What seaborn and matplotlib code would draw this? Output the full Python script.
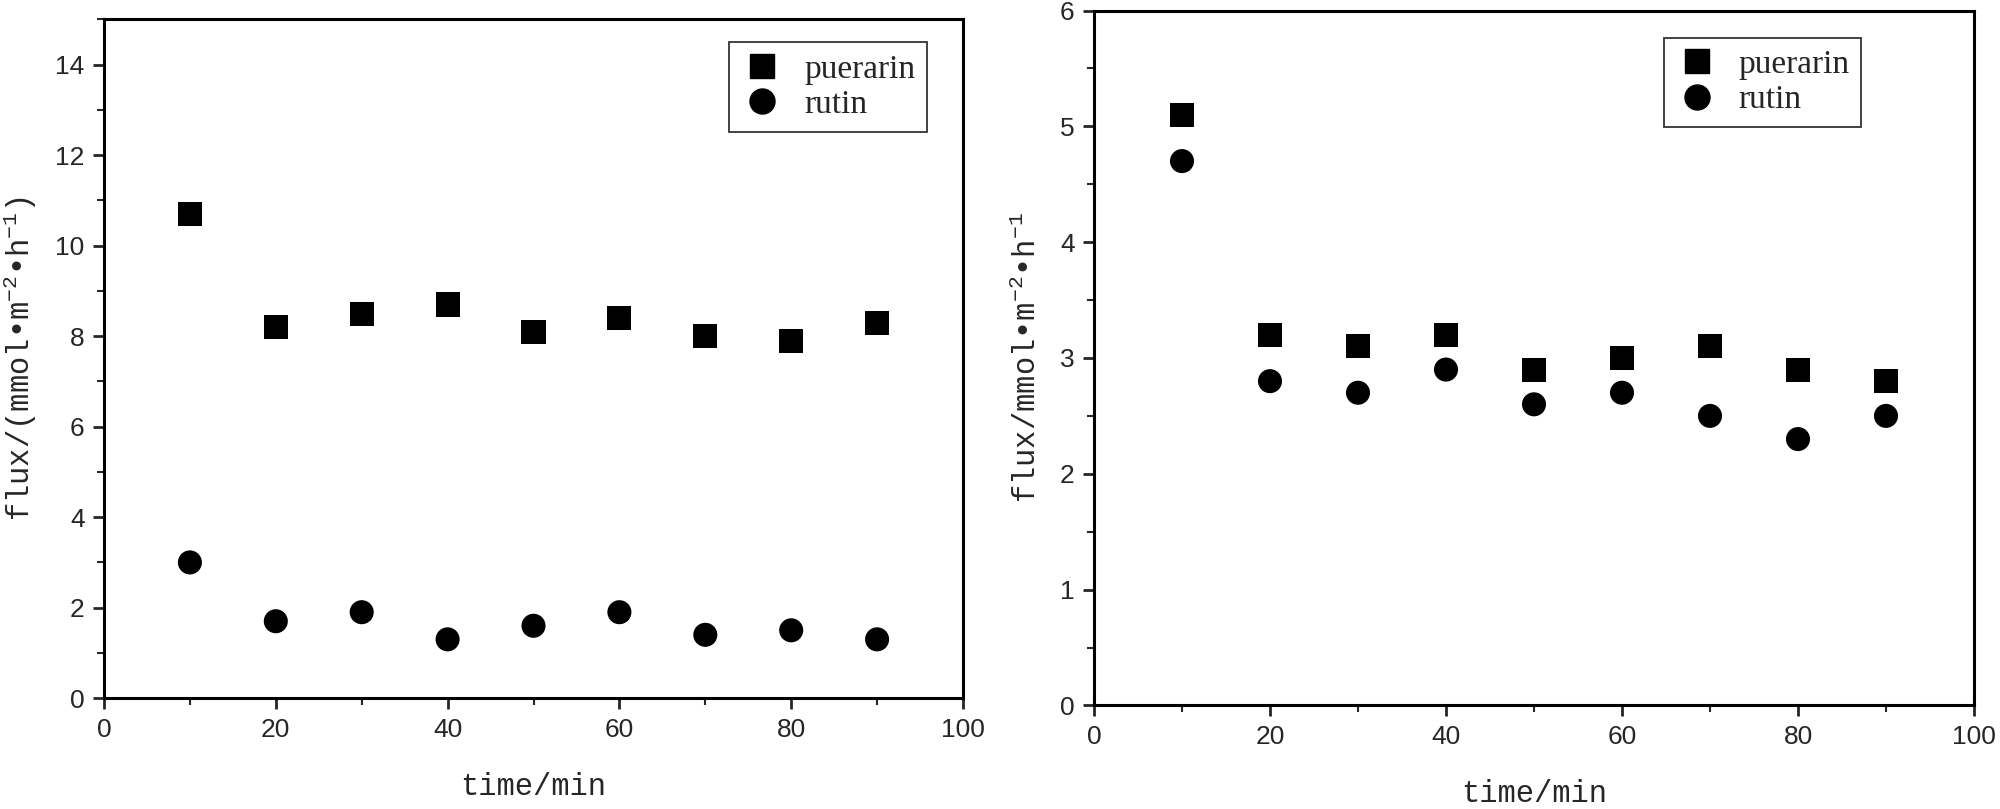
import numpy as np
import pandas as pd
import matplotlib
matplotlib.use("Agg")
import matplotlib.pyplot as plt
import seaborn as sns
from matplotlib.ticker import MultipleLocator

sns.set_style("ticks")
plt.rcParams["font.family"] = ["Liberation Sans", "DejaVu Sans"]
plt.rcParams["mathtext.default"] = "regular"

# dados
tempo = [10, 20, 30, 40, 50, 60, 70, 80, 90]
puerarin_a = [10.7, 8.2, 8.5, 8.7, 8.1, 8.4, 8.0, 7.9, 8.3]
rutin_a = [3.0, 1.7, 1.9, 1.3, 1.6, 1.9, 1.4, 1.5, 1.3]
puerarin_b = [5.1, 3.2, 3.1, 3.2, 2.9, 3.0, 3.1, 2.9, 2.8]
rutin_b = [4.7, 2.8, 2.7, 2.9, 2.6, 2.7, 2.5, 2.3, 2.5]


def monta_df(p, r):
    return pd.DataFrame({
        "time": tempo + tempo,
        "flux": p + r,
        "composto": ["puerarin"] * len(tempo) + ["rutin"] * len(tempo),
    })


fig = plt.figure(figsize=(20, 8.09), dpi=100)
ax1 = fig.add_axes([0.052, 0.137, 0.4295, 0.839])
ax2 = fig.add_axes([0.547, 0.128, 0.440, 0.859])

paineis = [
    (ax1, monta_df(puerarin_a, rutin_a), 15, 2, 1, "flux/(mmol\u2022m$^{-2}$\u2022h$^{-1}$)", (0.958, 0.966)),
    (ax2, monta_df(puerarin_b, rutin_b), 6, 1, 0.5, "flux/mmol\u2022m$^{-2}$\u2022h$^{-1}$", (0.872, 0.961)),
]

mono = ["Liberation Mono", "DejaVu Sans Mono"]

for ax, df, ymax, ymaj, ymin, ylab, ancora in paineis:
    sns.scatterplot(data=df, x="time", y="flux", style="composto",
                    markers={"puerarin": "s", "rutin": "o"},
                    color="black", s=300, edgecolor="none", ax=ax, legend=False)
    ax.set_xlim(0, 100)
    ax.set_ylim(0, ymax)
    ax.xaxis.set_major_locator(MultipleLocator(20))
    ax.xaxis.set_minor_locator(MultipleLocator(10))
    ax.yaxis.set_major_locator(MultipleLocator(ymaj))
    ax.yaxis.set_minor_locator(MultipleLocator(ymin))
    ax.tick_params(which="major", direction="out", length=8, width=2, labelsize=19, pad=6)
    ax.tick_params(which="minor", direction="out", length=5, width=1.5)
    for sp in ax.spines.values():
        sp.set_linewidth(2.2)
        sp.set_color("black")
    ax.set_xlabel("time/min", fontsize=22, family=mono, labelpad=22)
    ax.set_ylabel(ylab, fontsize=22, family=mono, labelpad=12)

    h1 = plt.Line2D([], [], marker="s", color="black", ls="", markersize=17)
    h2 = plt.Line2D([], [], marker="o", color="black", ls="", markersize=18)
    leg = ax.legend([h1, h2], ["puerarin", "rutin"], loc="upper right",
                    bbox_to_anchor=ancora, borderaxespad=0,
                    prop={"family": ["Liberation Serif", "DejaVu Serif"], "size": 24},
                    frameon=True, fancybox=False, edgecolor="black",
                    borderpad=0.35, labelspacing=0.15, handletextpad=0.6,
                    handlelength=1.3)
    leg.get_frame().set_linewidth(1.3)

fig.savefig("out.png", dpi=100, facecolor="white")
